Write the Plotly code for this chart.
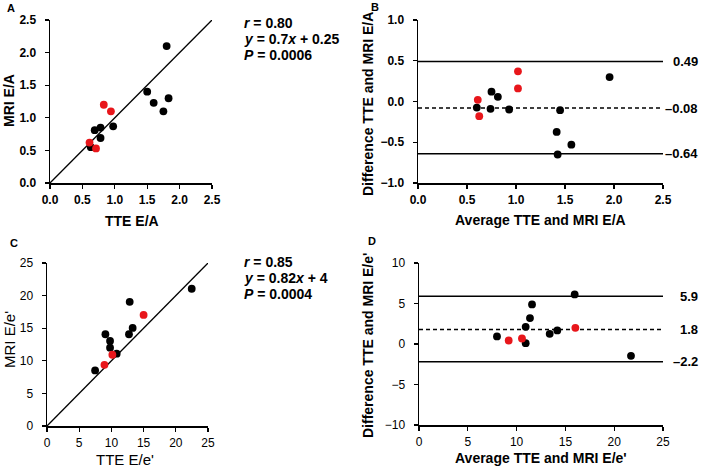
import plotly.graph_objects as go

W, H = 709, 468
FONT = "Arial, Liberation Sans, sans-serif"

# ---- Data ----
# Panel A: TTE E/A vs MRI E/A
a_black_x = [0.69, 0.78, 0.78, 0.975, 0.63, 1.50, 1.60, 1.75, 1.83, 1.80]
a_black_y = [0.81, 0.85, 0.69, 0.87, 0.55, 1.40, 1.23, 1.10, 1.30, 2.10]
a_red_x = [0.61, 0.71, 0.83, 0.94]
a_red_y = [0.62, 0.53, 1.20, 1.10]
a_stats = ["<i>r</i> = 0.80", "<i>y</i> = 0.7<i>x</i> + 0.25", "<i>P</i> = 0.0006"]

# Panel B: Bland-Altman E/A
b_black_x = [0.60, 0.75, 0.74, 0.815, 0.93, 1.415, 1.45, 1.425, 1.565, 1.955]
b_black_y = [-0.074, 0.12, -0.09, 0.057, -0.098, -0.373, -0.107, -0.65, -0.53, 0.30]
b_red_x = [0.61, 0.625, 1.02, 1.02]
b_red_y = [0.02, -0.18, 0.37, 0.16]
b_limits = [0.49, -0.08, -0.64]
b_limit_labels = ["0.49", "–0.08", "–0.64"]

# Panel C: TTE E/e' vs MRI E/e'
c_black_x = [7.47, 9.07, 9.79, 9.79, 10.82, 12.84, 12.73, 13.3, 22.47]
c_black_y = [8.52, 14.07, 13.04, 12.01, 11.09, 19.05, 14.07, 15.04, 21.05]
c_red_x = [8.92, 10.15, 15.0]
c_red_y = [9.39, 10.93, 17.04]
c_stats = ["<i>r</i> = 0.85", "<i>y</i> = 0.82<i>x</i> + 4", "<i>P</i> = 0.0004"]

# Panel D: Bland-Altman E/e'
d_black_x = [7.99, 10.93, 10.93, 11.37, 11.58, 13.39, 14.17, 15.95, 21.72]
d_black_y = [0.93, 2.12, 0.10, 3.20, 4.89, 1.26, 1.67, 6.12, -1.46]
d_red_x = [9.19, 10.55, 16.02]
d_red_y = [0.43, 0.68, 2.0]
d_limits = [5.9, 1.8, -2.2]
d_limit_labels = ["5.9", "1.8", "–2.2"]

# Axis ranges / ticks
a_range = [0, 2.5]; a_ticks = [0.0, 0.5, 1.0, 1.5, 2.0, 2.5]
b_xrange = [0, 2.5]; b_yrange = [-1.0, 1.0]; b_yticks = [-1.0, -0.5, 0.0, 0.5, 1.0]
c_range = [0, 25]; c_ticks = [0, 5, 10, 15, 20, 25]
d_xrange = [0, 25]; d_yrange = [-10, 10]; d_yticks = [-10, -5, 0, 5, 10]

BLACK = "#000000"
RED = "#e8161b"

fig = go.Figure()

def px_x(p):
    return p / W

def px_y(p):
    return 1 - p / H

def add_points(xs, ys, color, ax):
    fig.add_trace(go.Scatter(x=xs, y=ys, mode="markers",
                             marker=dict(color=color, size=7.8, line=dict(width=0)),
                             xaxis="x" + ax, yaxis="y" + ax, showlegend=False,
                             cliponaxis=False, hoverinfo="skip"))

def add_line(xs, ys, ax, dash="solid", width=1.4):
    fig.add_trace(go.Scatter(x=xs, y=ys, mode="lines",
                             line=dict(color=BLACK, width=width, dash=dash),
                             xaxis="x" + ax, yaxis="y" + ax, showlegend=False,
                             hoverinfo="skip"))

# Panel A
add_line(a_range, a_range, "", width=1.3)
add_points(a_black_x, a_black_y, BLACK, "")
add_points(a_red_x, a_red_y, RED, "")

# Panel B
for v in b_limits:
    add_line(b_xrange, [v, v], "2", dash="4px,3px" if v == b_limits[1] else "solid", width=1.5)
add_points(b_black_x, b_black_y, BLACK, "2")
add_points(b_red_x, b_red_y, RED, "2")

# Panel C
add_line(c_range, c_range, "3", width=1.3)
add_points(c_black_x, c_black_y, BLACK, "3")
add_points(c_red_x, c_red_y, RED, "3")

# Panel D
for v in d_limits:
    add_line(d_xrange, [v, v], "4", dash="4px,3px" if v == d_limits[1] else "solid", width=1.5)
add_points(d_black_x, d_black_y, BLACK, "4")
add_points(d_red_x, d_red_y, RED, "4")

def axis(domain, rng, tickvals, anchor, bold, fmt=None, standoff=4):
    d = dict(domain=domain, range=rng, tickvals=tickvals, anchor=anchor,
             showline=True, linecolor=BLACK, linewidth=1.5, mirror=False,
             showgrid=False, zeroline=False, ticks="outside", ticklen=4,
             tickwidth=1.3, tickcolor=BLACK, fixedrange=True, automargin=False,
             tickfont=dict(family=FONT, size=12, color=BLACK,
                           weight="bold" if bold else "normal"),
             ticklabelstandoff=standoff)
    if fmt:
        d["tickformat"] = fmt
    return d

fig.update_layout(
    width=W, height=H,
    margin=dict(l=0, r=0, t=0, b=0, autoexpand=False),
    paper_bgcolor="white", plot_bgcolor="white",
    xaxis=axis([px_x(50), px_x(212)], a_range, a_ticks, "y", True, ".1f", 1),
    yaxis=axis([px_y(183), px_y(20)], a_range, a_ticks, "x", True, ".1f", 6),
    xaxis2=axis([px_x(418), px_x(663)], b_xrange, a_ticks, "y2", True, ".1f", 1),
    yaxis2=axis([px_y(183), px_y(20)], b_yrange, b_yticks, "x2", True, ".1f", 6),
    xaxis3=axis([px_x(47), px_x(208)], c_range, c_ticks, "y3", False, None, 1),
    yaxis3=axis([px_y(426), px_y(263)], c_range, c_ticks, "x3", False, None, 6),
    xaxis4=axis([px_x(419), px_x(663)], d_xrange, c_ticks, "y4", False, None, 1),
    yaxis4=axis([px_y(425), px_y(263)], d_yrange, d_yticks, "x4", False, None, 6),
)

ann = []
def text(x, y, s, size=14, bold=True, angle=0, xanchor="center", yref="paper"):
    ann.append(dict(x=px_x(x),
                    y=y if yref != "paper" else px_y(y),
                    xref="paper", yref=yref, text=s, showarrow=False,
                    textangle=angle, xanchor=xanchor, yanchor="middle",
                    font=dict(family=FONT, size=size, color=BLACK,
                              weight="bold" if bold else "normal")))

# Panel letters
text(5, 8, "A", size=11, xanchor="left")
text(369, 7, "B", size=11, xanchor="left")
text(8, 243, "C", size=11, xanchor="left")
text(366, 241, "D", size=11, xanchor="left")

# Axis titles
text(132, 221, "TTE E/A", size=14)
text(9, 101, "MRI E/A", size=14, angle=-90)
text(540, 220, "Average TTE and MRI E/A", size=14)
text(368, 104, "Difference TTE and MRI E/A", size=14, angle=-90)
text(125, 459, "TTE E/e'", size=15, bold=False)
text(9, 340, "MRI E/e'", size=15, bold=False, angle=-90)
text(541, 458, "Average TTE and MRI E/e'", size=14)
text(368, 346, "Difference TTE and MRI E/e'", size=14, angle=-90)

# Stats
for i, s in enumerate(a_stats):
    text(242, 23 + 16 * i, "<b>" + s + "</b>", size=14, xanchor="left")
for i, s in enumerate(c_stats):
    text(242, 262 + 16 * i, "<b>" + s + "</b>", size=14, xanchor="left")

# Limit labels
for v, s in zip(b_limits, b_limit_labels):
    text(700, v, s, size=13, xanchor="right", yref="y2")
for v, s in zip(d_limits, d_limit_labels):
    text(700, v, s, size=13, xanchor="right", yref="y4")

fig.update_layout(annotations=ann)
fig.write_html(
    "out.html",
    config={"displayModeBar": False, "staticPlot": True},
    post_script="document.body.style.margin='0px';document.body.style.padding='0px';document.body.style.overflow='hidden';",
)
